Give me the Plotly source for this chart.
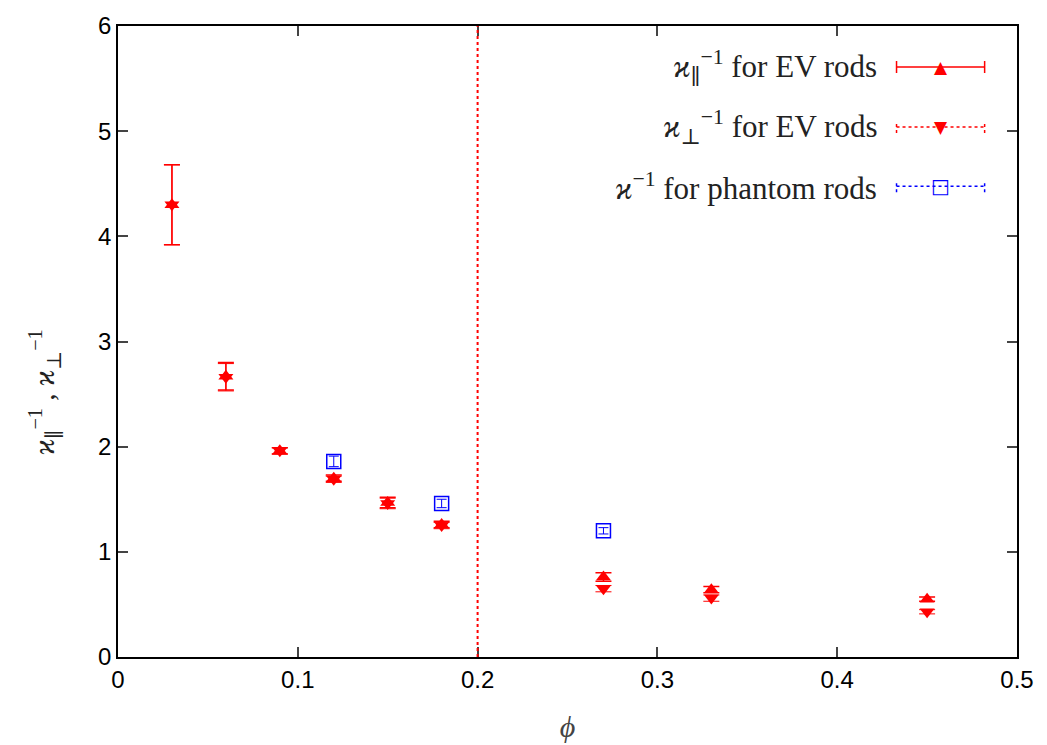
import plotly.graph_objects as go

# ---- data ----
x_ev = [0.03, 0.06, 0.09, 0.12, 0.15, 0.18, 0.27, 0.33, 0.45]
y_par = [4.30, 2.67, 1.96, 1.70, 1.47, 1.26, 0.76, 0.64, 0.55]
err_par = [0.38, 0.13, 0.03, 0.03, 0.05, 0.03, 0.04, 0.03, 0.02]
y_perp = [4.30, 2.66, 1.96, 1.69, 1.46, 1.25, 0.65, 0.56, 0.43]
err_perp = [0.38, 0.13, 0.03, 0.03, 0.05, 0.03, 0.03, 0.03, 0.02]
x_ph = [0.12, 0.18, 0.27]
y_ph = [1.86, 1.46, 1.20]
err_ph = [0.05, 0.04, 0.03]
phi_c = 0.2

legend_labels = [
    "<i>ϰ</i><sub>∥</sub><sup>−1</sup> for EV rods",
    "<i>ϰ</i><sub>⊥</sub><sup>−1</sup> for EV rods",
    "<i>ϰ</i><sup>−1</sup> for phantom rods",
]
y_title = "<i>ϰ</i><sub>∥</sub><sup>−1</sup> , <i>ϰ</i><sub>⊥</sub><sup>−1</sup>"
x_title = "<i>ϕ</i>"

RED = "#ff0000"
BLUE = "#0000ff"
SERIF = "Liberation Serif, DejaVu Serif, serif"
SANS = "Liberation Sans, Arial, sans-serif"

fig = go.Figure()
fig.add_trace(go.Scatter(
    x=x_ev, y=y_par, mode="markers",
    marker=dict(symbol="triangle-up", size=13, color=RED),
    error_y=dict(type="data", array=err_par, color=RED, thickness=1.5, width=8),
    showlegend=False))
fig.add_trace(go.Scatter(
    x=x_ev, y=y_perp, mode="markers",
    marker=dict(symbol="triangle-down", size=13, color=RED),
    error_y=dict(type="data", array=err_perp, color=RED, thickness=1, width=8),
    showlegend=False))
fig.add_trace(go.Scatter(
    x=x_ph, y=y_ph, mode="markers",
    marker=dict(symbol="square-open", size=14, color=BLUE, line=dict(width=1.5)),
    error_y=dict(type="data", array=err_ph, color=BLUE, thickness=1, width=5),
    showlegend=False))

# vertical dotted line at phi_c
fig.add_shape(type="line", xref="x", yref="paper", x0=phi_c, x1=phi_c, y0=0, y1=1,
              line=dict(color=RED, width=2, dash="dot"))

# custom legend (text left, sample right)
rows_y = [0.935, 0.840, 0.746]
colors = [RED, RED, BLUE]
dashes = ["solid", "dot", "dot"]
glyphs = ["▲", "▼", "□"]
xl0, xl1, xlc, xtext = 0.866, 0.964, 0.915, 0.846
for lab, ry, c, d, g in zip(legend_labels, rows_y, colors, dashes, glyphs):
    fig.add_annotation(xref="paper", yref="paper", x=xtext, y=ry, text=lab,
                       showarrow=False, xanchor="right", yanchor="middle",
                       font=dict(family=SERIF, size=31, color="#222222"))
    fig.add_shape(type="line", xref="paper", yref="paper", x0=xl0, x1=xl1, y0=ry, y1=ry,
                  line=dict(color=c, width=1.5, dash=d))
    for xc in (xl0, xl1):
        fig.add_shape(type="line", xref="paper", yref="paper", ysizemode="pixel",
                      yanchor=ry, x0=xc, x1=xc, y0=-6, y1=6,
                      line=dict(color=c, width=1.5, dash=d))
    fig.add_annotation(xref="paper", yref="paper", x=xlc, y=ry, text=g,
                       showarrow=False, xanchor="center", yanchor="middle",
                       font=dict(family="DejaVu Sans", size=17 if g != "□" else 20, color=c))

# y axis title as annotation (positioned like the reference)
fig.add_annotation(xref="paper", yref="paper", x=-0.082, y=0.42, text=y_title,
                   textangle=-90, showarrow=False, xanchor="center", yanchor="middle",
                   font=dict(family=SERIF, size=29, color="#222222"))

fig.update_layout(
    width=1047, height=745,
    margin=dict(l=110, r=38, t=18, b=96),
    paper_bgcolor="white", plot_bgcolor="white",
    font=dict(family=SANS, size=24, color="black"),
    xaxis=dict(range=[0, 0.5], tickvals=[0, 0.1, 0.2, 0.3, 0.4, 0.5],
               ticktext=["0", "0.1", "0.2", "0.3", "0.4", "0.5"],
               ticks="inside", ticklen=10, tickwidth=1.5, mirror="ticks",
               showline=True, linecolor="black", linewidth=1.5, showgrid=False,
               zeroline=False, automargin=False,
               title=dict(text=x_title, font=dict(family=SERIF, size=30, color="#444"),
                          standoff=24)),
    yaxis=dict(range=[0, 6], tickvals=[0, 1, 2, 3, 4, 5, 6],
               ticks="inside", ticklen=10, tickwidth=1.5, mirror="ticks",
               showline=True, linecolor="black", linewidth=1.5, showgrid=False,
               zeroline=False, automargin=False),
)

fig.write_html("out.html")
